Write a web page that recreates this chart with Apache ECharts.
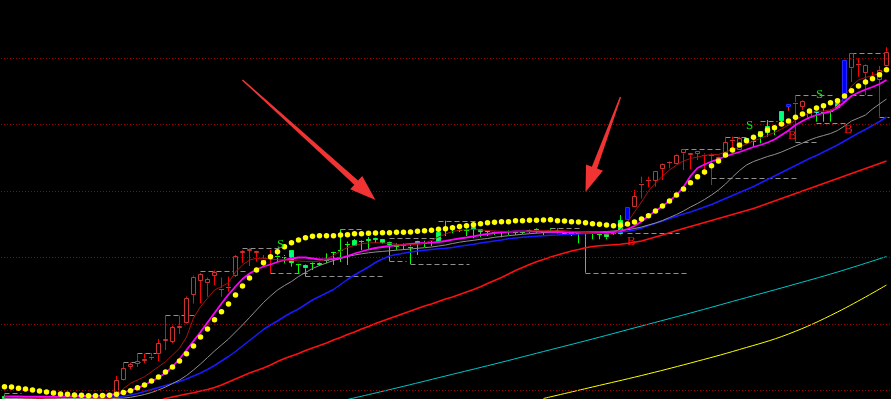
<!DOCTYPE html>
<html><head><meta charset="utf-8">
<script src="https://cdn.jsdelivr.net/npm/echarts@6/dist/echarts.min.js"></script>
<style>html,body{margin:0;padding:0;background:#000;}#chart{width:891px;height:399px;}</style>
</head><body><div id="chart"></div>
<script>
// ---------- data (price units) ----------
const openPrices = [2.30,2.00,2.05,2.20,2.00,2.10,1.90,2.00,1.80,1.90,
2.00,1.90,2.00,1.90,2.05,1.95,2.10,3.90,5.25,5.50,
5.80,6.15,6.47,7.80,7.73,9.20,9.57,12.40,13.83,13.57,
14.30,13.00,13.15,14.33,16.63,16.80,16.63,15.90,16.30,16.35,
16.30,16.90,15.60,15.40,15.63,15.65,15.97,16.73,16.90,17.53,
17.90,17.83,17.97,18.10,17.97,17.70,17.35,17.40,17.27,17.83,
17.63,17.70,18.70,19.20,19.27,18.97,18.93,19.17,19.00,18.87,
18.77,18.70,18.80,18.73,18.70,18.97,19.00,18.70,18.93,18.93,
18.73,18.67,18.60,18.67,18.60,18.57,18.57,18.60,19.90,19.90,
21.17,23.50,23.85,23.83,24.97,25.63,25.47,26.57,26.37,26.50,
26.35,26.35,25.90,26.23,27.85,26.90,28.07,27.85,28.83,29.30,
29.35,30.83,31.23,31.58,31.23,30.07,30.83,30.77,30.87,31.63,
31.73,35.07,35.45,34.57,34.00,33.90,35.30];
const closePrices = [2.05,2.20,2.15,2.00,2.10,1.90,2.00,1.80,1.90,2.00,
1.90,2.00,1.90,2.05,1.95,2.10,3.90,5.07,5.50,5.80,
6.05,6.25,7.57,8.00,9.17,9.35,12.07,14.23,14.47,14.00,
14.70,13.10,13.25,16.30,16.83,16.97,16.83,16.00,16.45,16.25,
16.20,15.60,15.47,15.07,15.53,15.45,15.90,16.67,16.83,17.47,
17.33,17.77,17.80,17.90,17.57,17.40,17.27,17.33,17.20,17.50,
17.57,17.63,17.70,19.13,18.97,18.90,18.87,18.90,18.73,18.80,
18.70,18.63,18.73,18.67,18.63,18.83,18.93,18.63,18.87,18.87,
18.57,18.60,18.53,18.53,18.53,18.50,18.17,18.53,18.50,21.17,
22.30,23.60,23.95,24.77,25.50,25.73,26.40,26.97,26.57,26.77,
26.45,26.45,26.20,27.67,27.95,28.07,27.73,27.80,28.17,28.63,
29.25,29.83,31.50,31.68,31.80,30.90,30.63,30.70,30.80,31.07,
35.90,36.57,35.55,35.40,34.10,34.90,36.73];
const lowPrices = [1.90,1.80,1.90,1.80,1.80,1.70,1.70,1.60,1.60,1.70,
1.70,1.80,1.70,1.80,1.80,1.85,2.00,3.85,5.00,5.20,
5.60,5.90,5.80,6.90,7.60,8.50,9.50,11.55,11.60,12.23,
13.40,12.23,12.73,14.20,15.63,15.30,15.73,15.30,14.57,15.70,
15.57,15.23,14.57,14.25,14.90,15.30,15.57,15.40,15.70,15.40,
17.30,16.90,16.90,17.60,17.50,15.80,16.90,16.90,15.50,16.40,
17.20,17.30,17.60,18.30,18.57,18.70,18.30,18.07,18.17,18.30,
18.40,18.17,18.40,18.40,18.50,18.57,18.57,18.40,18.70,18.57,
18.50,18.30,17.57,14.63,17.97,17.97,17.97,18.40,18.45,19.90,
21.15,22.07,23.17,23.23,23.90,25.07,25.45,24.90,24.97,25.90,
24.40,23.40,25.57,26.20,26.90,26.90,27.60,27.23,27.57,28.23,
28.40,29.30,30.83,27.73,30.90,30.05,29.73,29.73,29.73,31.05,
31.73,33.70,34.23,32.40,33.90,30.23,35.25];
const highPrices = [2.45,2.30,2.30,2.30,2.20,2.20,2.10,2.10,2.00,2.10,
2.10,2.15,2.10,2.20,2.15,2.25,4.30,5.65,5.65,6.50,
6.55,6.60,8.00,10.35,9.30,10.35,12.25,14.35,14.60,14.15,
14.85,14.15,14.23,16.40,16.90,17.07,16.85,16.40,16.90,16.60,
16.40,16.90,15.63,15.45,15.73,15.70,16.57,16.75,18.95,17.73,
18.00,17.90,18.20,18.13,18.00,17.73,17.57,17.55,17.57,17.85,
17.83,17.80,18.73,19.83,19.30,19.15,19.07,19.23,19.00,18.90,
18.80,18.73,18.85,18.73,18.75,19.00,19.07,18.73,19.07,19.07,
18.75,18.70,18.60,18.70,18.60,18.60,18.57,18.73,20.40,21.17,
22.90,24.23,24.23,24.80,25.55,25.80,26.45,27.00,26.60,26.80,
26.57,26.57,26.23,28.23,28.23,28.23,28.10,27.95,28.83,29.90,
29.40,30.83,31.50,32.40,31.85,30.95,30.85,31.07,30.95,31.65,
35.90,36.60,36.07,35.45,34.70,35.30,37.17];
const blueBars = [89,112,120];
const cyanBars = [106,116];

const dotLine = [3.23,3.20,3.07,3.00,2.90,2.80,2.70,2.60,2.50,2.47,
2.40,2.37,2.33,2.33,2.35,2.38,2.47,2.65,2.83,3.13,
3.40,3.80,4.20,4.70,5.20,5.80,6.53,7.30,8.20,9.00,
9.93,10.73,11.50,12.40,13.30,14.10,14.90,15.63,16.23,16.73,
17.23,17.63,17.90,18.13,18.27,18.33,18.33,18.33,18.40,18.43,
18.53,18.53,18.57,18.60,18.63,18.63,18.67,18.67,18.70,18.77,
18.83,18.87,18.97,19.03,19.13,19.25,19.33,19.42,19.53,19.63,
19.67,19.73,19.73,19.83,19.83,19.87,19.87,19.90,19.93,19.83,
19.80,19.73,19.70,19.63,19.53,19.47,19.40,19.33,19.40,19.50,
19.70,20.00,20.33,20.80,21.30,21.80,22.40,23.00,23.63,24.23,
24.70,25.33,25.80,26.40,26.90,27.40,27.83,28.17,28.47,28.90,
29.13,29.50,29.80,30.17,30.50,30.80,31.10,31.33,31.63,31.83,
32.30,32.83,33.30,33.70,34.03,34.43,34.93];

const ma5 = [2.20,2.15,2.15,2.10,2.10,2.05,2.00,2.00,1.95,1.95,
1.95,1.95,1.95,2.00,2.00,2.05,2.23,3.05,3.57,3.90,
4.23,4.73,5.23,5.73,6.40,7.07,8.20,10.10,11.23,12.07,
12.90,13.23,13.63,14.70,15.40,15.90,16.07,16.07,16.00,15.93,
15.90,15.85,15.80,15.75,15.73,15.80,16.00,16.35,16.80,17.15,
17.35,17.53,17.60,17.63,17.60,17.57,17.47,17.40,17.43,17.47,
17.60,17.85,18.20,18.50,18.75,18.87,18.93,18.97,18.90,18.85,
18.80,18.77,18.75,18.75,18.75,18.80,18.85,18.83,18.85,18.87,
18.83,18.77,18.70,18.65,18.60,18.57,18.50,18.50,18.90,19.70,
20.70,21.70,22.80,23.60,24.30,24.90,25.40,25.80,26.05,26.20,
26.35,26.45,26.45,26.70,26.95,27.20,27.50,27.80,28.05,28.35,
28.65,29.00,29.40,29.90,30.30,30.60,30.75,30.80,30.90,31.30,
32.20,33.30,33.90,34.15,34.35,34.55,35.00];
const ma10 = [2.25,2.25,2.25,2.24,2.24,2.23,2.23,2.24,2.25,2.27,
2.28,2.30,2.30,2.31,2.33,2.40,2.50,2.65,2.85,3.10,
3.40,3.75,4.15,4.60,5.25,6.00,6.90,7.80,8.70,9.65,
10.60,11.55,12.45,13.25,14.00,14.55,14.95,15.25,15.45,15.70,
15.90,16.05,16.15,16.15,16.05,15.95,15.95,16.00,16.10,16.30,
16.55,16.75,16.95,17.10,17.20,17.30,17.37,17.43,17.50,17.55,
17.60,17.63,17.70,17.80,17.93,18.05,18.15,18.27,18.40,18.50,
18.60,18.67,18.72,18.75,18.77,18.77,18.75,18.73,18.72,18.70,
18.68,18.67,18.67,18.67,18.67,18.67,18.68,18.70,18.82,19.00,
19.30,19.75,20.30,20.80,21.30,21.80,22.40,23.20,24.30,25.10,
25.45,25.75,26.00,26.25,26.50,26.70,26.95,27.20,27.40,27.65,
27.95,28.40,28.85,29.40,29.80,30.15,30.40,30.60,30.75,31.10,
31.70,32.30,32.65,32.95,33.20,33.50,33.90];
const ma20 = [2.05,2.05,2.05,2.05,2.05,2.05,2.05,2.05,2.05,2.05,
2.05,2.05,2.05,2.05,2.05,2.05,2.06,2.09,2.17,2.30,
2.45,2.65,2.90,3.20,3.55,3.90,4.35,4.90,5.50,6.15,
6.80,7.40,8.00,8.70,9.40,10.15,10.90,11.65,12.30,12.90,
13.35,13.75,14.25,14.65,15.05,15.35,15.60,15.85,16.05,16.25,
16.40,16.52,16.62,16.70,16.76,16.82,16.88,16.94,17.00,17.07,
17.13,17.20,17.30,17.40,17.55,17.68,17.78,17.87,17.97,18.05,
18.17,18.25,18.33,18.40,18.47,18.53,18.58,18.63,18.66,18.67,
18.67,18.67,18.67,18.68,18.70,18.70,18.75,18.80,18.85,18.93,
19.05,19.20,19.40,19.60,19.85,20.15,20.45,20.80,21.20,21.55,
21.95,22.40,22.90,23.50,24.20,24.85,25.40,25.75,26.00,26.25,
26.45,26.70,27.00,27.30,27.60,27.90,28.15,28.35,28.55,28.85,
29.30,29.80,30.10,30.40,31.00,31.50,32.00];
const ma30 = [2.18,2.18,2.18,2.18,2.18,2.18,2.18,2.18,2.18,2.18,
2.18,2.18,2.18,2.18,2.18,2.19,2.20,2.27,2.40,2.55,
2.75,2.95,3.15,3.35,3.55,3.75,4.00,4.30,4.60,4.95,
5.35,5.80,6.25,6.75,7.30,7.85,8.40,8.95,9.40,9.80,
10.25,10.65,11.00,11.45,11.90,12.25,12.60,12.95,13.45,13.95,
14.40,14.80,15.20,15.65,16.00,16.30,16.45,16.58,16.70,16.80,
16.88,16.95,17.02,17.07,17.15,17.27,17.37,17.47,17.60,17.70,
17.80,17.90,18.03,18.10,18.17,18.23,18.28,18.33,18.37,18.40,
18.44,18.47,18.50,18.54,18.57,18.60,18.63,18.67,18.70,18.77,
18.90,19.10,19.35,19.57,19.80,20.05,20.27,20.50,20.70,20.95,
21.20,21.45,21.75,22.05,22.35,22.65,22.95,23.25,23.60,23.95,
24.30,24.65,25.00,25.35,25.70,26.05,26.35,26.70,27.05,27.40,
27.80,28.20,28.60,28.95,29.35,29.75,30.20];
const ma60 = [null,null,null,null,null,null,null,null,null,null,
null,null,null,null,null,null,null,null,null,null,
null,null,1.80,2.05,2.20,2.35,2.50,2.63,2.80,2.95,
3.15,3.40,3.70,4.00,4.30,4.60,4.85,5.10,5.40,5.75,
6.05,6.30,6.55,6.85,7.10,7.35,7.60,7.90,8.15,8.45,
8.70,9.00,9.25,9.55,9.80,10.05,10.30,10.55,10.80,11.05,
11.30,11.50,11.75,12.00,12.20,12.45,12.70,12.95,13.23,13.55,
13.85,14.15,14.50,14.85,15.15,15.45,15.73,15.95,16.20,16.40,
16.60,16.80,16.95,17.13,17.25,17.33,17.38,17.43,17.48,17.57,
17.68,17.80,18.00,18.20,18.40,18.63,18.85,19.05,19.25,19.45,
19.65,19.85,20.05,20.25,20.45,20.65,20.85,21.05,21.30,21.55,
21.80,22.05,22.30,22.55,22.80,23.05,23.30,23.55,23.80,24.05,
24.30,24.55,24.80,25.05,25.30,25.55,25.80];
// longer averages, read at every 7th bar: [bar index, price]
const ma120 = [[49,1.95],[56,3.10],[63,4.30],[70,5.50],[77,6.75],[84,8.00],[91,9.30],[98,10.60],[105,11.95],[112,13.30],[119,14.70],[126,16.25]];
const ma250 = [[77,2.05],[84,3.20],[91,4.35],[98,5.60],[105,6.95],[112,8.50],[119,10.70],[126,13.40]];

// support / resistance levels: start bar, end bar, price
const levelStart = [0,17,19,23,28,34,38,43,48,55,55,58,62,78,83,89,97,101,103,108,113,113,116,121,121,125];
const levelEnd   = [2,19,22,27,34,39,43,54,51,62,57,66,67,82,97,96,102,113,106,110,118,116,120,126,124,126];
const levelPrice = [2.57,5.67,6.57,10.37,14.83,17.07,14.63,14.30,18.97,18.13,15.80,15.47,19.83,19.07,14.63,18.65,26.97,24.07,28.17,29.83,32.40,27.70,29.63,36.57,32.40,30.17];

// signal letters
const signalIndex = [39,89,106,112,116,120];
const signalPrice = [17.40,17.75,29.35,28.30,32.40,28.90];
const signalText  = ['S','B','S','B','S','B'];

// horizontal price grid
const gridPrices = [36.05,29.45,22.75,16.15,9.45,2.85];

// annotation arrows: tail bar, tail price, tip bar, tip price
const arrowTailIndex = [34,88];
const arrowTailPrice = [33.90,32.20];
const arrowTipIndex  = [53,83];
const arrowTipPrice  = [21.90,22.70];

const categories = openPrices.map((_, i) => String(i + 1));

// ---------- chart ----------
const candleData = openPrices.map((o, i) => [i, o, closePrices[i], lowPrices[i], highPrices[i],
  blueBars.includes(i) ? 1 : (cyanBars.includes(i) ? 2 : 0)]);

function renderCandle(params, api) {
  const i = api.value(0);
  const ov = api.value(1), cv = api.value(2);
  const o = api.coord([i, ov]), c = api.coord([i, cv]);
  const l = api.coord([i, api.value(3)]), h = api.coord([i, api.value(4)]);
  const kind = api.value(5);
  const f = Math.floor(o[0]);
  const xc = f + 0.5;
  const top = Math.min(o[1], c[1]), bot = Math.max(o[1], c[1]);
  const up = cv >= ov;
  let wick, stroke, fill;
  if (kind === 1) { wick = '#ff2020'; stroke = '#2828ff'; fill = '#0000ff'; }
  else if (kind === 2) { wick = '#00ff00'; stroke = '#00ffff'; fill = '#0070ff'; }
  else if (up) { wick = '#ff0000'; stroke = '#c83232'; fill = '#000000'; }
  else { wick = '#00ff00'; stroke = '#00ff40'; fill = '#00ff80'; }
  const ch = [];
  ch.push({type: 'line', shape: {x1: xc, y1: h[1], x2: xc, y2: top}, style: {stroke: wick, lineWidth: 1}});
  ch.push({type: 'line', shape: {x1: xc, y1: bot, x2: xc, y2: l[1]}, style: {stroke: wick, lineWidth: 1}});
  if (bot - top < 1.5) {
    const y = Math.round((top + bot) / 2) + 0.5;
    ch.push({type: 'line', shape: {x1: f - 2, y1: y, x2: f + 3, y2: y}, style: {stroke: up ? stroke : wick, lineWidth: 1}});
  } else {
    const yt = Math.round(top), yb = Math.round(bot);
    ch.push({type: 'rect', shape: {x: f - 1.5, y: yt + 0.5, width: 4, height: Math.max(1, yb - yt - 1)},
      style: {fill: fill, stroke: stroke, lineWidth: 1}});
  }
  return {type: 'group', children: ch};
}

function renderLevel(params, api) {
  const a = api.coord([api.value(0), api.value(2)]);
  const b = api.coord([api.value(1), api.value(2)]);
  const y = Math.round(a[1]) + 0.5;
  return {type: 'line', shape: {x1: a[0], y1: y, x2: b[0] + 3, y2: y},
    style: {stroke: '#909090', lineWidth: 1, lineDash: [5, 3]}};
}

function renderSignal(params, api) {
  const p = api.coord([api.value(0), api.value(1)]);
  const t = signalText[params.dataIndex];
  return {type: 'text', x: Math.floor(p[0]), y: p[1],
    style: {text: t, fill: t === 'S' ? '#10e010' : '#ff1010', font: '13px "Liberation Serif"',
      align: 'left', verticalAlign: 'middle'}};
}

function renderArrow(params, api) {
  const t = api.coord([api.value(0), api.value(1)]);
  const p = api.coord([api.value(2), api.value(3)]);
  const dx = p[0] - t[0], dy = p[1] - t[1];
  const len = Math.hypot(dx, dy);
  const ux = dx / len, uy = dy / len, nx = -uy, ny = ux;
  const headLen = 26, headHalf = 9, tailHalf = 0.7, neckHalf = 2.8;
  const bx = p[0] - ux * headLen, by = p[1] - uy * headLen;
  const pts = [
    [t[0] + nx * tailHalf, t[1] + ny * tailHalf],
    [bx + nx * neckHalf, by + ny * neckHalf],
    [bx + nx * headHalf, by + ny * headHalf],
    [p[0], p[1]],
    [bx - nx * headHalf, by - ny * headHalf],
    [bx - nx * neckHalf, by - ny * neckHalf],
    [t[0] - nx * tailHalf, t[1] - ny * tailHalf]
  ];
  return {type: 'polygon', shape: {points: pts}, style: {fill: '#f03434'}};
}

function maLine(name, data, color, width, z, smooth) {
  return {name, type: 'line', data, symbol: 'none', z, silent: true, connectNulls: true,
    smooth: smooth || false, lineStyle: {color, width, opacity: 1}, itemStyle: {color}};
}

const chart = echarts.init(document.getElementById('chart'), null, {renderer: 'canvas'});
chart.setOption({
  backgroundColor: '#000000',
  animation: false,
  grid: {left: 1, right: 1, top: 0, bottom: 0},
  xAxis: {type: 'category', data: categories, boundaryGap: true, show: false},
  yAxis: {type: 'value', min: 2, max: 41.9, show: false, splitLine: {show: false}},
  series: [
    {type: 'line', data: [], z: 1, silent: true,
      markLine: {silent: true, symbol: 'none', label: {show: false},
        lineStyle: {color: '#a00000', type: [1, 2], width: 1, opacity: 1},
        data: gridPrices.map(v => ({yAxis: v}))}},
    {type: 'custom', z: 2, silent: true, renderItem: renderLevel,
      data: levelStart.map((s, k) => [s, levelEnd[k], levelPrice[k]])},
    {type: 'custom', z: 3, silent: true, renderItem: renderCandle, data: candleData},
    maLine('MA250', ma250, '#ffff00', 1, 4, 0.4),
    maLine('MA120', ma120, '#00c8c8', 1, 4, 0.4),
    maLine('MA60', ma60, '#ff1010', 1.5, 4),
    maLine('MA30', ma30, '#1a1aff', 1.5, 4),
    maLine('MA20', ma20, '#909090', 1, 4),
    maLine('MA10', ma10, '#ff00ff', 1.8, 5),
    maLine('MA5', ma5, '#a81010', 1, 5),
    {type: 'scatter', data: dotLine, symbol: 'circle', symbolSize: 5.5, z: 6, silent: true,
      itemStyle: {color: '#ffff00', opacity: 1}},
    {type: 'custom', z: 7, silent: true, renderItem: renderSignal,
      data: signalIndex.map((s, k) => [s, signalPrice[k]])},
    {type: 'custom', z: 8, silent: true, clip: false, renderItem: renderArrow,
      data: arrowTailIndex.map((s, k) => [s, arrowTailPrice[k], arrowTipIndex[k], arrowTipPrice[k]])}
  ]
});
</script></body></html>
